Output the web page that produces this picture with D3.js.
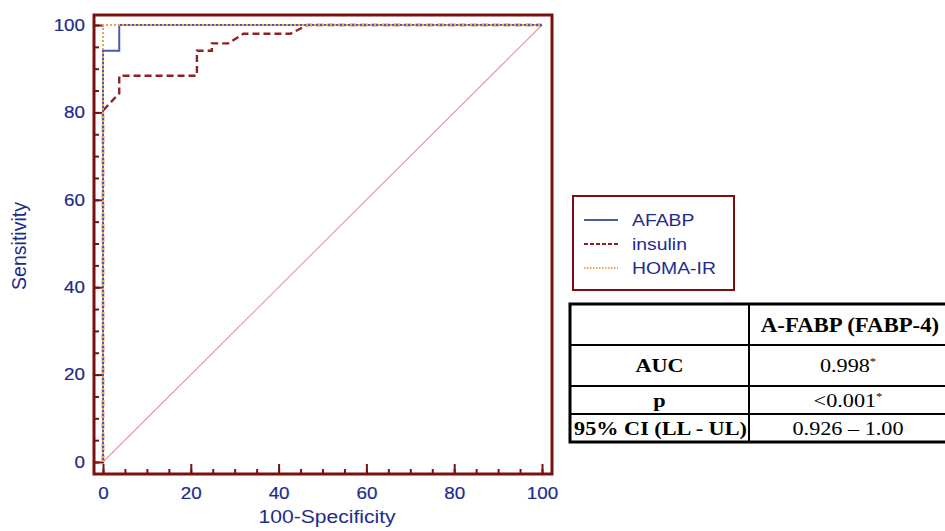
<!DOCTYPE html>
<html>
<head>
<meta charset="utf-8">
<script src="https://cdn.jsdelivr.net/npm/d3@7"></script>
<style>
  body { margin: 0; background: #fff; }
  svg { display: block; }
</style>
</head>
<body>
<svg id="chart" width="945" height="531"></svg>
<script>
// ROC points [100-specificity, sensitivity]
const afabp = [[0, 0], [0, 94.1], [3.7, 94.1], [3.7, 100], [100, 100]];
const insulin = [[0, 0], [0, 80.4], [3.7, 84.4], [3.7, 88.4], [21.4, 88.4], [21.4, 94.1],
  [24.8, 94.1], [24.8, 95.8], [28.5, 95.8], [32, 98], [42.7, 98], [46.5, 100], [100, 100]];
const homaIR = [[0, 0], [0, 100], [100, 100]];
const reference = [[0, 0], [100, 100]];

const seriesNames = ["AFABP", "insulin", "HOMA-IR"];
const majorTicks = [0, 20, 40, 60, 80, 100];
const minorTicks = d3.range(0, 101, 5);

const tableHeader = ["", "A-FABP (FABP-4)"];
const tableRows = [
  ["AUC", "0.998", "*"],
  ["p", "<0.001", "*"],
  ["95% CI (LL - UL)", "0.926 \u2013 1.00", ""]
];

const svg = d3.select("#chart");
const blueText = "#1e2b8c";
const frameColor = "#7b1010";
const sans = "Liberation Sans, Arial, sans-serif";
const serif = "Liberation Serif, Times New Roman, serif";
const K = 1.14; // the original picture is a little wider than tall

// places a text at (x, y), stretched sideways by k
function placeStretched(sel, px, py, k) {
  sel.attr("x", 0).attr("y", 0)
    .attr("transform", `translate(${px},${py}) scale(${k},1)`);
}

const frame = { left: 94, right: 552, top: 15, bottom: 474 };
const x = d3.scaleLinear().domain([0, 100]).range([103, 542]);
const y = d3.scaleLinear().domain([0, 100]).range([462, 25]);

// minor ticks (inward)
svg.append("g")
  .attr("transform", `translate(0,${frame.bottom})`)
  .call(d3.axisBottom(x).tickValues(minorTicks).tickSize(-5).tickFormat(""))
  .call(g => g.select(".domain").remove())
  .selectAll("line").attr("stroke", frameColor).attr("stroke-width", 2);
svg.append("g")
  .attr("transform", `translate(${frame.left},0)`)
  .call(d3.axisLeft(y).tickValues(minorTicks).tickSize(-5).tickFormat(""))
  .call(g => g.select(".domain").remove())
  .selectAll("line").attr("stroke", frameColor).attr("stroke-width", 2);

// major ticks with labels
const xAxis = svg.append("g")
  .attr("transform", `translate(0,${frame.bottom})`)
  .call(d3.axisBottom(x).tickValues(majorTicks).tickSize(-10).tickPadding(13));
xAxis.select(".domain").remove();
xAxis.selectAll("line").attr("stroke", frameColor).attr("stroke-width", 2);
xAxis.selectAll("text")
  .attr("fill", blueText).style("font-family", sans)
  .style("font-size", "16.5px")
  .attr("stroke", blueText).attr("stroke-width", 0.2)
  .attr("transform", `scale(${K},1)`);

const yAxis = svg.append("g")
  .attr("transform", `translate(${frame.left},0)`)
  .call(d3.axisLeft(y).tickValues(majorTicks).tickSize(-10));
yAxis.select(".domain").remove();
yAxis.selectAll("line").attr("stroke", frameColor).attr("stroke-width", 2);
yAxis.selectAll("text")
  .attr("fill", blueText).style("font-family", sans)
  .style("font-size", "16.5px")
  .attr("stroke", blueText).attr("stroke-width", 0.2)
  .attr("x", -9 / K)
  .attr("transform", `scale(${K},1)`);

// axis titles
svg.append("text")
  .attr("text-anchor", "middle")
  .attr("fill", blueText)
  .style("font-family", sans)
  .style("font-size", "18.5px")
  .text("100-Specificity")
  .call(placeStretched, 327, 523, K);
svg.append("text")
  .attr("transform", "translate(26,246) rotate(-90)")
  .attr("text-anchor", "middle")
  .attr("fill", blueText)
  .style("font-family", sans)
  .style("font-size", "19.5px")
  .text("Sensitivity");

const line = d3.line().x(d => x(d[0])).y(d => y(d[1]));

// reference diagonal
svg.append("path").datum(reference).attr("d", line)
  .attr("fill", "none").attr("stroke", "#e8979c").attr("stroke-width", 1.1);

const styles = {
  "AFABP": { color: "#4b5aaa", width: 2, dash: null },
  "insulin": { color: "#8e2222", width: 2.4, dash: "7,4" },
  "HOMA-IR": { color: "#f4a348", width: 2, dash: "2,2" }
};
const seriesData = [insulin, afabp, homaIR];
const seriesOrder = ["insulin", "AFABP", "HOMA-IR"];

svg.append("g").selectAll("path")
  .data(seriesOrder)
  .enter()
  .append("path")
  .attr("d", (d, i) => line(seriesData[i]))
  .attr("fill", "none")
  .attr("stroke", d => styles[d].color)
  .attr("stroke-width", d => styles[d].width)
  .attr("stroke-dasharray", d => styles[d].dash);

// frame
svg.append("rect")
  .attr("x", frame.left).attr("y", frame.top)
  .attr("width", frame.right - frame.left).attr("height", frame.bottom - frame.top)
  .attr("fill", "none").attr("stroke", frameColor).attr("stroke-width", 3);

// legend
const legend = svg.append("g").attr("transform", "translate(573,196)");
legend.append("rect")
  .attr("width", 161).attr("height", 94)
  .attr("fill", "#fff").attr("stroke", frameColor).attr("stroke-width", 2);
const legendItem = legend.selectAll(".item")
  .data(seriesNames)
  .enter()
  .append("g")
  .attr("class", "item")
  .attr("transform", (d, i) => `translate(0,${24 + i * 24})`);
legendItem.append("line")
  .attr("x1", 11).attr("x2", 45)
  .attr("stroke", d => styles[d].color)
  .attr("stroke-width", 1.8)
  .attr("stroke-dasharray", d => d === "insulin" ? "4,2" : d === "HOMA-IR" ? "1.5,1.5" : null);
legendItem.append("text")
  .attr("dy", "0.36em")
  .attr("fill", blueText)
  .style("font-family", sans)
  .style("font-size", "17px")
  .text(d => d)
  .each(function () { placeStretched(d3.select(this), 59, 0, K); });

// results table
const table = svg.append("g");
const colX = [570, 749, 960];
const rowY = [304, 345, 386, 414, 442];

table.append("rect")
  .attr("x", colX[0]).attr("y", rowY[0])
  .attr("width", colX[2] - colX[0]).attr("height", rowY[4] - rowY[0])
  .attr("fill", "none").attr("stroke", "#000").attr("stroke-width", 3);
table.selectAll(".hline")
  .data(rowY.slice(1, 4))
  .enter()
  .append("line")
  .attr("x1", colX[0]).attr("x2", colX[2])
  .attr("y1", d => d).attr("y2", d => d)
  .attr("stroke", "#000").attr("stroke-width", 2);
table.append("line")
  .attr("x1", colX[1]).attr("x2", colX[1])
  .attr("y1", rowY[0]).attr("y2", rowY[4])
  .attr("stroke", "#000").attr("stroke-width", 2);

const cellCx = [(colX[0] + colX[1]) / 2, 848];

table.append("text")
  .attr("dy", "0.35em").attr("text-anchor", "middle")
  .style("font-family", serif).style("font-size", "20px").style("font-weight", "bold")
  .text(tableHeader[1])
  .call(placeStretched, cellCx[1] + 2, (rowY[0] + rowY[1]) / 2, K);

tableRows.forEach((r, i) => {
  const cy = (rowY[i + 1] + rowY[i + 2]) / 2;
  table.append("text")
    .attr("dy", "0.35em").attr("text-anchor", "middle")
    .style("font-family", serif).style("font-size", "19.5px").style("font-weight", "bold")
    .text(r[0])
    .call(placeStretched, cellCx[0] + (i === 2 ? 1 : 0), cy, K);
  const t = table.append("text")
    .attr("dy", "0.35em").attr("text-anchor", "middle")
    .style("font-family", serif).style("font-size", "19.5px")
    .call(placeStretched, cellCx[1], cy, K);
  t.append("tspan").text(r[1]);
  if (r[2]) {
    t.append("tspan").attr("dy", "-7").style("font-size", "11px").text(r[2]);
  }
});
</script>
</body>
</html>
